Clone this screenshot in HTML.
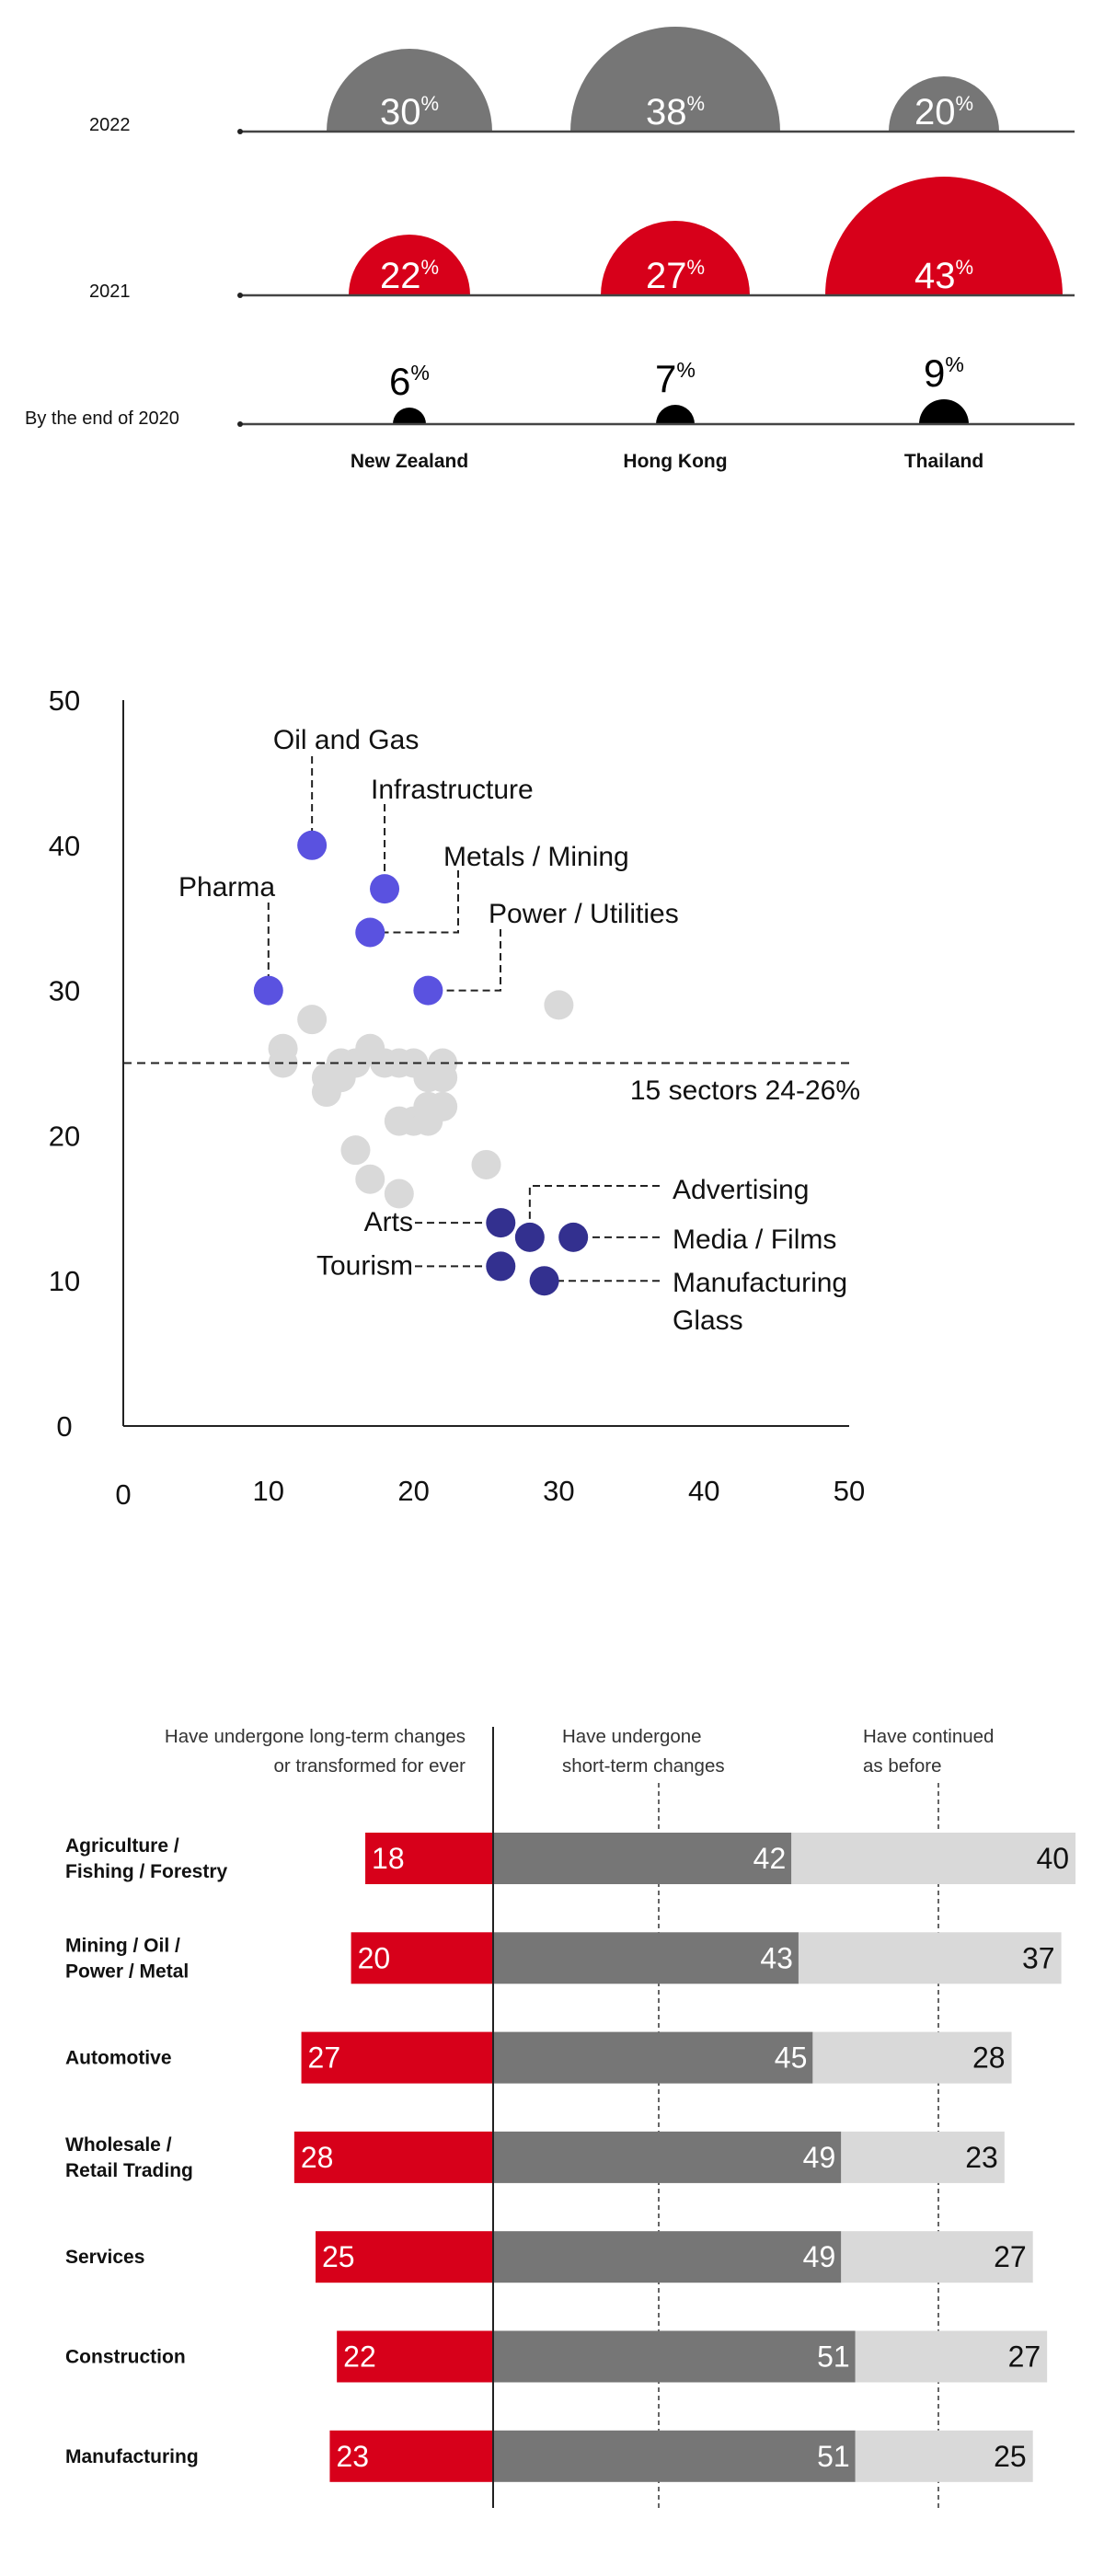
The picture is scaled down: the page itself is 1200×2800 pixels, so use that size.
<!DOCTYPE html>
<html><head><meta charset="utf-8"><style>
html,body{margin:0;padding:0;background:#fff;}
body{width:1200px;height:2800px;overflow:hidden;font-family:"Liberation Sans",sans-serif;}
svg{display:block}
</style></head><body>
<svg id="chart" width="1200" height="2800" viewBox="0 0 1200 2800" xmlns="http://www.w3.org/2000/svg">
<g id="top"></g>
<g id="scatter"></g>
<g id="bars"></g>
</svg>
<script>
// ---------- Dome chart data ----------
const domeCountries = ["New Zealand", "Hong Kong", "Thailand"];
const domeYears = ["2022", "2021", "By the end of 2020"];
const dome2022 = [30, 38, 20];
const dome2021 = [22, 27, 43];
const dome2020 = [6, 7, 9];

// ---------- Scatter data ----------
const xTicks = [0, 10, 20, 30, 40, 50];
const yTicks = [0, 10, 20, 30, 40, 50];
const hiNames = ["Oil and Gas", "Infrastructure", "Metals / Mining", "Pharma", "Power / Utilities"];
const hiX = [13, 18, 17, 10, 21];
const hiY = [40, 37, 34, 30, 30];
const loNames = ["Arts", "Advertising", "Media / Films", "Tourism", "Manufacturing Glass"];
const loX = [26, 28, 31, 26, 29];
const loY = [14, 13, 13, 11, 10];
const grayX = [30, 13, 11, 11, 17, 15, 16, 18, 19, 20, 22, 14, 15, 21, 22, 14, 20, 21, 19, 22, 21, 16, 25, 17, 19];
const grayY = [29, 28, 26, 25, 26, 25, 25, 25, 25, 25, 25, 24, 24, 24, 24, 23, 21, 21, 21, 22, 22, 19, 18, 17, 16];
const refLine = 25;

// ---------- Bar data ----------
const barCats = [["Agriculture /", "Fishing / Forestry"], ["Mining / Oil /", "Power / Metal"], ["Automotive"], ["Wholesale /", "Retail Trading"], ["Services"], ["Construction"], ["Manufacturing"]];
const longTerm = [18, 20, 27, 28, 25, 22, 23];
const shortTerm = [42, 43, 45, 49, 49, 51, 51];
const asBefore = [40, 37, 28, 23, 27, 27, 25];

const NS = "http://www.w3.org/2000/svg";
function mk(parent, tag, attrs, text) {
  const e = document.createElementNS(NS, tag);
  for (const k in attrs) e.setAttribute(k, attrs[k]);
  if (text !== undefined) e.textContent = text;
  parent.appendChild(e);
  return e;
}
function pctText(parent, x, y, v, size, fill) {
  const t = mk(parent, "text", {x: x, y: y, "text-anchor": "middle", "font-size": size, fill: fill, "font-family": "Liberation Sans, sans-serif"});
  mk(t, "tspan", {}, String(v));
  mk(t, "tspan", {"font-size": size * 0.55, dy: -size * 0.38}, "%");
  return t;
}

// ---------- Dome chart ----------
(function () {
  const g = document.getElementById("top");
  const colX = [445, 734, 1026];
  const baseY = [143, 321, 461];
  const colors = ["#767676", "#d7001a", "#000000"];
  const series = [dome2022, dome2021, dome2020];
  const yearLabelX = [97, 97, 27];
  const yearLabelY = [142, 323, 461];
  const rScale = v => v * 3;
  series.forEach((vals, si) => {
    const yl = mk(g, "text", {x: yearLabelX[si], y: yearLabelY[si], "font-size": 20, fill: "#111"}, domeYears[si]);
    
    
    vals.forEach((v, i) => {
      const r = rScale(v), cx = colX[i], by = baseY[si];
      const p = mk(g, "path", {d: `M${cx - r},${by} A${r},${r} 0 0 1 ${cx + r},${by} Z`, fill: colors[si]});
      
      
      let t;
      if (si < 2) t = pctText(g, cx, by - 8, v, 40, "#fff");
      else t = pctText(g, cx, by - r - 14, v, 42, "#000");
      
      
    });
    const ln = mk(g, "line", {x1: 260, x2: 1168, y1: baseY[si], y2: baseY[si], stroke: "#444", "stroke-width": 2.5});
    
    
    const dot = mk(g, "circle", {cx: 261, cy: baseY[si], r: 3, fill: "#222"});
    
    
  });
  domeCountries.forEach((c, i) => {
    const t = mk(g, "text", {x: colX[i], y: 508, "text-anchor": "middle", "font-size": 21, "font-weight": "bold", fill: "#111"}, c);
    
    
  });
})();

// ---------- Scatter ----------
(function () {
  const g = document.getElementById("scatter");
  const X0 = 134, Y0 = 1550, U = 15.78;
  const sx = v => X0 + v * U;
  const sy = v => Y0 - v * U;
  const yAxis = mk(g, "line", {x1: X0, x2: X0, y1: sy(50), y2: Y0, stroke: "#222", "stroke-width": 2});
  
  
  const xAxis = mk(g, "line", {x1: X0, x2: sx(50), y1: Y0, y2: Y0, stroke: "#222", "stroke-width": 2});
  
  
  yTicks.forEach(v => {
    const t = mk(g, "text", {x: 70, y: sy(v) + 11, "text-anchor": "middle", "font-size": 31, fill: "#111"}, String(v));
    
    
  });
  xTicks.forEach(v => {
    const t = mk(g, "text", {x: sx(v), y: 1631 + (v === 0 ? 4 : 0), "text-anchor": "middle", "font-size": 31, fill: "#111"}, String(v));
    
    
  });
  grayX.forEach((x, i) => {
    const c = mk(g, "circle", {cx: sx(x), cy: sy(grayY[i]), r: 16, fill: "#d9d9d9"});
    
    
  });
  const rl = mk(g, "line", {x1: X0, x2: sx(50), y1: sy(refLine), y2: sy(refLine), stroke: "#222", "stroke-width": 2, "stroke-dasharray": "9,6"});
  
  
  const rlt = mk(g, "text", {x: 935, y: 1195, "text-anchor": "end", "font-size": 30, fill: "#111"}, "15 sectors 24-26%");
  
  
  const dash = {stroke: "#222", "stroke-width": 2, fill: "none", "stroke-dasharray": "8,5"};
  function leader(pts) {
    const p = mk(g, "polyline", Object.assign({points: pts.map(q => q.join(",")).join(" ")}, dash));
    
    
  }
  function label(txt, x, y, anchor) {
    const t = mk(g, "text", {x: x, y: y, "text-anchor": anchor || "start", "font-size": 30, fill: "#111"}, txt);
    
    
  }
  label(hiNames[0], sx(hiX[0]) + 37, 814, "middle");
  leader([[sx(hiX[0]), 822], [sx(hiX[0]), sy(hiY[0])]]);
  label(hiNames[1], 403, 868);
  leader([[sx(hiX[1]), 874], [sx(hiX[1]), sy(hiY[1])]]);
  label(hiNames[2], 482, 941);
  leader([[498, 946], [498, sy(hiY[2])], [sx(hiX[2]), sy(hiY[2])]]);
  label(hiNames[3], 194, 974);
  leader([[sx(hiX[3]), 981], [sx(hiX[3]), sy(hiY[3])]]);
  label(hiNames[4], 531, 1003);
  leader([[544, 1010], [544, sy(hiY[4])], [sx(hiX[4]), sy(hiY[4])]]);
  label(loNames[0], 449, sy(loY[0]) + 9, "end");
  leader([[451, sy(loY[0])], [sx(loX[0]), sy(loY[0])]]);
  label(loNames[1], 731, 1303);
  leader([[717, 1289], [sx(loX[1]), 1289], [sx(loX[1]), sy(loY[1])]]);
  label(loNames[2], 731, 1357);
  leader([[717, sy(loY[2])], [sx(loX[2]), sy(loY[2])]]);
  label(loNames[3], 449, sy(loY[3]) + 9, "end");
  leader([[451, sy(loY[3])], [sx(loX[3]), sy(loY[3])]]);
  label("Manufacturing", 731, 1404);
  label("Glass", 731, 1445);
  leader([[717, sy(loY[4])], [sx(loX[4]), sy(loY[4])]]);
  hiX.forEach((x, i) => {
    const c = mk(g, "circle", {cx: sx(x), cy: sy(hiY[i]), r: 16, fill: "#5a52e0"});
    
    
  });
  loX.forEach((x, i) => {
    const c = mk(g, "circle", {cx: sx(x), cy: sy(loY[i]), r: 16, fill: "#33308f"});
    
    
  });
})();

// ---------- Stacked bars ----------
(function () {
  const g = document.getElementById("bars");
  const CX = 536, U = 7.72, TOP = 1992, STEP = 108.3, H = 56;
  const sx = v => v * U;
  [[716], [1020]].forEach(a => {
    const l = mk(g, "line", {x1: a[0], x2: a[0], y1: 1938, y2: 2726, stroke: "#333", "stroke-width": 1.5, "stroke-dasharray": "5,4"});
    
    
  });
  function head(lines, x, anchor) {
    lines.forEach((s, i) => {
      const t = mk(g, "text", {x: x, y: 1894 + i * 32, "text-anchor": anchor, "font-size": 20.5, fill: "#333"}, s);
      
      
    });
  }
  head(["Have undergone long-term changes", "or transformed for ever"], 506, "end");
  head(["Have undergone", "short-term changes"], 611, "start");
  head(["Have continued", "as before"], 938, "start");
  barCats.forEach((cat, i) => {
    const y = TOP + i * STEP, cy = y + H / 2;
    const r = mk(g, "rect", {x: CX - sx(longTerm[i]), y: y, width: sx(longTerm[i]), height: H, fill: "#d7001a"});
    
    
    const d = mk(g, "rect", {x: CX, y: y, width: sx(shortTerm[i]), height: H, fill: "#767676"});
    
    
    const l = mk(g, "rect", {x: CX + sx(shortTerm[i]), y: y, width: sx(asBefore[i]), height: H, fill: "#d9d9d9"});
    
    
    const t1 = mk(g, "text", {x: CX - sx(longTerm[i]) + 7, y: cy + 11, "font-size": 32, fill: "#fff"}, String(longTerm[i]));
    
    
    const t2 = mk(g, "text", {x: CX + sx(shortTerm[i]) - 6, y: cy + 11, "text-anchor": "end", "font-size": 32, fill: "#fff"}, String(shortTerm[i]));
    
    
    const t3 = mk(g, "text", {x: CX + sx(shortTerm[i] + asBefore[i]) - 7, y: cy + 11, "text-anchor": "end", "font-size": 32, fill: "#111"}, String(asBefore[i]));
    
    
    const n = cat.length;
    cat.forEach((s, j) => {
      const t = mk(g, "text", {x: 71, y: cy + 7 + (j - (n - 1) / 2) * 28, "font-size": 21, "font-weight": "bold", fill: "#111"}, s);
      
      
    });
  });
  const ax = mk(g, "line", {x1: CX, x2: CX, y1: 1877, y2: 2726, stroke: "#222", "stroke-width": 2});
  
  
})();
</script>
</body></html>
